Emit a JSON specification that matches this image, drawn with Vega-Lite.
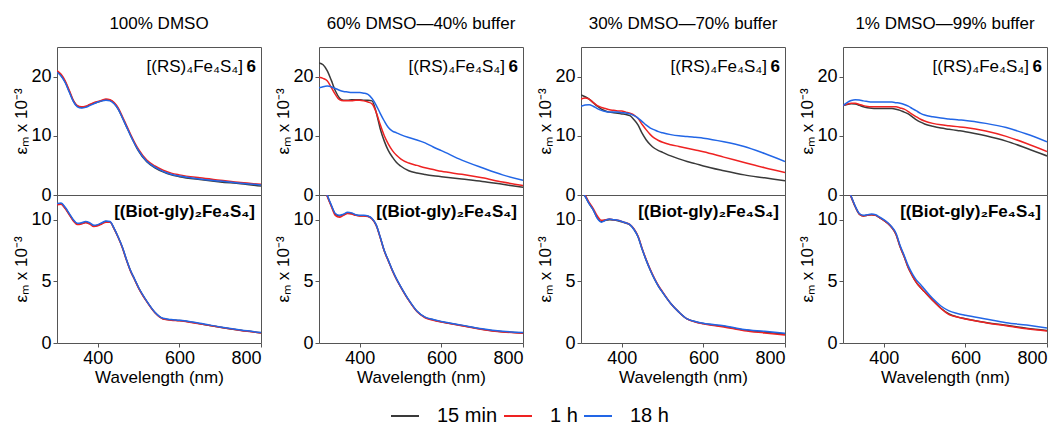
{
"$schema": "https://vega.github.io/schema/vega-lite/v6.json",
"background": "white",
"padding": {"left": 12, "top": 14, "right": 0, "bottom": 0},
"config": {
 "font": "Liberation Sans",
 "view": {"stroke": "#555555", "strokeWidth": 1},
 "axis": {"domain": false, "grid": false, "tickColor": "#555555", "tickSize": 4, "labelPadding": 2, "labelFontSize": 18, "labelColor": "#000000", "titleFontSize": 17, "titleFontWeight": "normal", "titleColor": "#000000"},
 "axisY": {"titlePadding": 0, "titleFontSize": 17},
 "axisX": {"titlePadding": 2},
 "title": {"fontSize": 17, "fontWeight": "normal", "offset": 14, "color": "#000000"},
 "legend": {"title": null}
},
"datasets": {
"p100RS": [
{"time":"15 min","wl":300,"eps":20.8},{"time":"15 min","wl":310,"eps":20.2},{"time":"15 min","wl":320,"eps":19.1},{"time":"15 min","wl":330,"eps":17.5},{"time":"15 min","wl":340,"eps":15.9},{"time":"15 min","wl":350,"eps":15.0},{"time":"15 min","wl":360,"eps":14.8},{"time":"15 min","wl":370,"eps":14.9},{"time":"15 min","wl":380,"eps":15.2},{"time":"15 min","wl":390,"eps":15.5},{"time":"15 min","wl":400,"eps":15.7},{"time":"15 min","wl":410,"eps":15.9},{"time":"15 min","wl":420,"eps":16.1},{"time":"15 min","wl":430,"eps":16.0},{"time":"15 min","wl":440,"eps":15.5},{"time":"15 min","wl":450,"eps":14.5},{"time":"15 min","wl":460,"eps":13.1},{"time":"15 min","wl":470,"eps":11.6},{"time":"15 min","wl":480,"eps":10.1},{"time":"15 min","wl":490,"eps":8.7},{"time":"15 min","wl":500,"eps":7.4},{"time":"15 min","wl":520,"eps":5.6},{"time":"15 min","wl":540,"eps":4.6},{"time":"15 min","wl":560,"eps":3.9},{"time":"15 min","wl":580,"eps":3.4},{"time":"15 min","wl":600,"eps":3.1},{"time":"15 min","wl":650,"eps":2.6},{"time":"15 min","wl":700,"eps":2.2},{"time":"15 min","wl":750,"eps":1.9},{"time":"15 min","wl":800,"eps":1.5},
{"time":"1 h","wl":300,"eps":21.0},{"time":"1 h","wl":310,"eps":20.4},{"time":"1 h","wl":320,"eps":19.3},{"time":"1 h","wl":330,"eps":17.7},{"time":"1 h","wl":340,"eps":16.0},{"time":"1 h","wl":350,"eps":15.1},{"time":"1 h","wl":360,"eps":14.9},{"time":"1 h","wl":370,"eps":15.0},{"time":"1 h","wl":380,"eps":15.3},{"time":"1 h","wl":390,"eps":15.6},{"time":"1 h","wl":400,"eps":15.8},{"time":"1 h","wl":410,"eps":16.0},{"time":"1 h","wl":420,"eps":16.2},{"time":"1 h","wl":430,"eps":16.1},{"time":"1 h","wl":440,"eps":15.6},{"time":"1 h","wl":450,"eps":14.7},{"time":"1 h","wl":460,"eps":13.3},{"time":"1 h","wl":470,"eps":11.8},{"time":"1 h","wl":480,"eps":10.3},{"time":"1 h","wl":490,"eps":8.9},{"time":"1 h","wl":500,"eps":7.7},{"time":"1 h","wl":520,"eps":5.9},{"time":"1 h","wl":540,"eps":4.9},{"time":"1 h","wl":560,"eps":4.2},{"time":"1 h","wl":580,"eps":3.7},{"time":"1 h","wl":600,"eps":3.4},{"time":"1 h","wl":650,"eps":2.9},{"time":"1 h","wl":700,"eps":2.5},{"time":"1 h","wl":750,"eps":2.1},{"time":"1 h","wl":800,"eps":1.8},
{"time":"18 h","wl":300,"eps":20.7},{"time":"18 h","wl":310,"eps":20.1},{"time":"18 h","wl":320,"eps":19.0},{"time":"18 h","wl":330,"eps":17.4},{"time":"18 h","wl":340,"eps":15.8},{"time":"18 h","wl":350,"eps":14.9},{"time":"18 h","wl":360,"eps":14.7},{"time":"18 h","wl":370,"eps":14.8},{"time":"18 h","wl":380,"eps":15.1},{"time":"18 h","wl":390,"eps":15.4},{"time":"18 h","wl":400,"eps":15.7},{"time":"18 h","wl":410,"eps":15.9},{"time":"18 h","wl":420,"eps":16.0},{"time":"18 h","wl":430,"eps":15.9},{"time":"18 h","wl":440,"eps":15.4},{"time":"18 h","wl":450,"eps":14.5},{"time":"18 h","wl":460,"eps":13.1},{"time":"18 h","wl":470,"eps":11.6},{"time":"18 h","wl":480,"eps":10.1},{"time":"18 h","wl":490,"eps":8.7},{"time":"18 h","wl":500,"eps":7.5},{"time":"18 h","wl":520,"eps":5.7},{"time":"18 h","wl":540,"eps":4.7},{"time":"18 h","wl":560,"eps":4.0},{"time":"18 h","wl":580,"eps":3.5},{"time":"18 h","wl":600,"eps":3.2},{"time":"18 h","wl":650,"eps":2.7},{"time":"18 h","wl":700,"eps":2.35},{"time":"18 h","wl":750,"eps":2.0},{"time":"18 h","wl":800,"eps":1.7}
],
"p100B": [
{"time":"15 min","wl":300,"eps":11.25},{"time":"15 min","wl":310,"eps":11.3},{"time":"15 min","wl":320,"eps":10.95},{"time":"15 min","wl":330,"eps":10.45},{"time":"15 min","wl":340,"eps":9.95},{"time":"15 min","wl":350,"eps":9.65},{"time":"15 min","wl":360,"eps":9.7},{"time":"15 min","wl":370,"eps":9.8},{"time":"15 min","wl":380,"eps":9.7},{"time":"15 min","wl":390,"eps":9.5},{"time":"15 min","wl":400,"eps":9.55},{"time":"15 min","wl":410,"eps":9.7},{"time":"15 min","wl":420,"eps":9.85},{"time":"15 min","wl":430,"eps":9.82},{"time":"15 min","wl":440,"eps":9.27},{"time":"15 min","wl":450,"eps":8.57},{"time":"15 min","wl":460,"eps":7.77},{"time":"15 min","wl":470,"eps":6.77},{"time":"15 min","wl":480,"eps":5.87},{"time":"15 min","wl":490,"eps":5.17},{"time":"15 min","wl":500,"eps":4.47},{"time":"15 min","wl":520,"eps":3.37},{"time":"15 min","wl":540,"eps":2.47},{"time":"15 min","wl":560,"eps":1.97},{"time":"15 min","wl":580,"eps":1.87},{"time":"15 min","wl":600,"eps":1.82},{"time":"15 min","wl":650,"eps":1.57},{"time":"15 min","wl":700,"eps":1.28},{"time":"15 min","wl":750,"eps":1.03},{"time":"15 min","wl":800,"eps":0.83},
{"time":"1 h","wl":300,"eps":11.2},{"time":"1 h","wl":310,"eps":11.25},{"time":"1 h","wl":320,"eps":10.9},{"time":"1 h","wl":330,"eps":10.4},{"time":"1 h","wl":340,"eps":9.9},{"time":"1 h","wl":350,"eps":9.6},{"time":"1 h","wl":360,"eps":9.65},{"time":"1 h","wl":370,"eps":9.75},{"time":"1 h","wl":380,"eps":9.65},{"time":"1 h","wl":390,"eps":9.45},{"time":"1 h","wl":400,"eps":9.5},{"time":"1 h","wl":410,"eps":9.65},{"time":"1 h","wl":420,"eps":9.8},{"time":"1 h","wl":430,"eps":9.8},{"time":"1 h","wl":440,"eps":9.25},{"time":"1 h","wl":450,"eps":8.55},{"time":"1 h","wl":460,"eps":7.75},{"time":"1 h","wl":470,"eps":6.75},{"time":"1 h","wl":480,"eps":5.85},{"time":"1 h","wl":490,"eps":5.15},{"time":"1 h","wl":500,"eps":4.45},{"time":"1 h","wl":520,"eps":3.35},{"time":"1 h","wl":540,"eps":2.45},{"time":"1 h","wl":560,"eps":1.95},{"time":"1 h","wl":580,"eps":1.85},{"time":"1 h","wl":600,"eps":1.8},{"time":"1 h","wl":650,"eps":1.55},{"time":"1 h","wl":700,"eps":1.27},{"time":"1 h","wl":750,"eps":1.02},{"time":"1 h","wl":800,"eps":0.82},
{"time":"18 h","wl":300,"eps":11.3},{"time":"18 h","wl":310,"eps":11.35},{"time":"18 h","wl":320,"eps":11.0},{"time":"18 h","wl":330,"eps":10.5},{"time":"18 h","wl":340,"eps":10.0},{"time":"18 h","wl":350,"eps":9.7},{"time":"18 h","wl":360,"eps":9.75},{"time":"18 h","wl":370,"eps":9.85},{"time":"18 h","wl":380,"eps":9.75},{"time":"18 h","wl":390,"eps":9.55},{"time":"18 h","wl":400,"eps":9.6},{"time":"18 h","wl":410,"eps":9.75},{"time":"18 h","wl":420,"eps":9.9},{"time":"18 h","wl":430,"eps":9.85},{"time":"18 h","wl":440,"eps":9.3},{"time":"18 h","wl":450,"eps":8.6},{"time":"18 h","wl":460,"eps":7.8},{"time":"18 h","wl":470,"eps":6.8},{"time":"18 h","wl":480,"eps":5.9},{"time":"18 h","wl":490,"eps":5.2},{"time":"18 h","wl":500,"eps":4.5},{"time":"18 h","wl":520,"eps":3.4},{"time":"18 h","wl":540,"eps":2.5},{"time":"18 h","wl":560,"eps":2.0},{"time":"18 h","wl":580,"eps":1.9},{"time":"18 h","wl":600,"eps":1.85},{"time":"18 h","wl":650,"eps":1.6},{"time":"18 h","wl":700,"eps":1.3},{"time":"18 h","wl":750,"eps":1.05},{"time":"18 h","wl":800,"eps":0.85}
],
"p60RS": [
{"time":"15 min","wl":300,"eps":22.3},{"time":"15 min","wl":310,"eps":22.0},{"time":"15 min","wl":320,"eps":21.0},{"time":"15 min","wl":330,"eps":19.4},{"time":"15 min","wl":340,"eps":17.6},{"time":"15 min","wl":350,"eps":16.4},{"time":"15 min","wl":360,"eps":16.0},{"time":"15 min","wl":370,"eps":16.0},{"time":"15 min","wl":380,"eps":16.1},{"time":"15 min","wl":390,"eps":16.1},{"time":"15 min","wl":400,"eps":16.1},{"time":"15 min","wl":410,"eps":16.0},{"time":"15 min","wl":420,"eps":16.0},{"time":"15 min","wl":430,"eps":15.9},{"time":"15 min","wl":440,"eps":14.0},{"time":"15 min","wl":450,"eps":11.2},{"time":"15 min","wl":460,"eps":9.1},{"time":"15 min","wl":470,"eps":7.5},{"time":"15 min","wl":480,"eps":6.4},{"time":"15 min","wl":490,"eps":5.5},{"time":"15 min","wl":500,"eps":4.9},{"time":"15 min","wl":520,"eps":4.1},{"time":"15 min","wl":540,"eps":3.7},{"time":"15 min","wl":560,"eps":3.45},{"time":"15 min","wl":580,"eps":3.25},{"time":"15 min","wl":600,"eps":3.1},{"time":"15 min","wl":650,"eps":2.7},{"time":"15 min","wl":700,"eps":2.3},{"time":"15 min","wl":750,"eps":1.8},{"time":"15 min","wl":800,"eps":1.3},
{"time":"1 h","wl":300,"eps":19.9},{"time":"1 h","wl":310,"eps":19.7},{"time":"1 h","wl":320,"eps":19.3},{"time":"1 h","wl":330,"eps":18.2},{"time":"1 h","wl":340,"eps":17.0},{"time":"1 h","wl":350,"eps":16.1},{"time":"1 h","wl":360,"eps":15.9},{"time":"1 h","wl":370,"eps":15.9},{"time":"1 h","wl":380,"eps":15.9},{"time":"1 h","wl":390,"eps":16.0},{"time":"1 h","wl":400,"eps":16.0},{"time":"1 h","wl":410,"eps":15.9},{"time":"1 h","wl":420,"eps":15.7},{"time":"1 h","wl":430,"eps":15.4},{"time":"1 h","wl":440,"eps":14.0},{"time":"1 h","wl":450,"eps":11.9},{"time":"1 h","wl":460,"eps":10.0},{"time":"1 h","wl":470,"eps":8.6},{"time":"1 h","wl":480,"eps":7.5},{"time":"1 h","wl":490,"eps":6.7},{"time":"1 h","wl":500,"eps":6.1},{"time":"1 h","wl":520,"eps":5.4},{"time":"1 h","wl":540,"eps":5.0},{"time":"1 h","wl":560,"eps":4.6},{"time":"1 h","wl":580,"eps":4.3},{"time":"1 h","wl":600,"eps":4.0},{"time":"1 h","wl":650,"eps":3.5},{"time":"1 h","wl":700,"eps":2.9},{"time":"1 h","wl":750,"eps":2.2},{"time":"1 h","wl":800,"eps":1.6},
{"time":"18 h","wl":300,"eps":18.1},{"time":"18 h","wl":310,"eps":18.3},{"time":"18 h","wl":320,"eps":18.4},{"time":"18 h","wl":330,"eps":18.3},{"time":"18 h","wl":340,"eps":18.0},{"time":"18 h","wl":350,"eps":17.7},{"time":"18 h","wl":360,"eps":17.5},{"time":"18 h","wl":370,"eps":17.4},{"time":"18 h","wl":380,"eps":17.3},{"time":"18 h","wl":390,"eps":17.3},{"time":"18 h","wl":400,"eps":17.3},{"time":"18 h","wl":410,"eps":17.2},{"time":"18 h","wl":420,"eps":17.0},{"time":"18 h","wl":430,"eps":16.3},{"time":"18 h","wl":440,"eps":15.2},{"time":"18 h","wl":450,"eps":13.8},{"time":"18 h","wl":460,"eps":12.5},{"time":"18 h","wl":470,"eps":11.4},{"time":"18 h","wl":480,"eps":10.8},{"time":"18 h","wl":490,"eps":10.5},{"time":"18 h","wl":500,"eps":10.2},{"time":"18 h","wl":520,"eps":9.7},{"time":"18 h","wl":540,"eps":9.3},{"time":"18 h","wl":560,"eps":8.8},{"time":"18 h","wl":580,"eps":8.1},{"time":"18 h","wl":600,"eps":7.5},{"time":"18 h","wl":650,"eps":5.9},{"time":"18 h","wl":700,"eps":4.6},{"time":"18 h","wl":750,"eps":3.4},{"time":"18 h","wl":800,"eps":2.5}
],
"p60B": [
{"time":"15 min","wl":300,"eps":13.75},{"time":"15 min","wl":310,"eps":12.85},{"time":"15 min","wl":320,"eps":11.95},{"time":"15 min","wl":330,"eps":11.15},{"time":"15 min","wl":340,"eps":10.45},{"time":"15 min","wl":350,"eps":10.3},{"time":"15 min","wl":360,"eps":10.4},{"time":"15 min","wl":370,"eps":10.55},{"time":"15 min","wl":380,"eps":10.5},{"time":"15 min","wl":390,"eps":10.38},{"time":"15 min","wl":400,"eps":10.32},{"time":"15 min","wl":410,"eps":10.32},{"time":"15 min","wl":420,"eps":10.28},{"time":"15 min","wl":430,"eps":10.08},{"time":"15 min","wl":440,"eps":9.58},{"time":"15 min","wl":450,"eps":8.58},{"time":"15 min","wl":460,"eps":7.48},{"time":"15 min","wl":470,"eps":6.68},{"time":"15 min","wl":480,"eps":5.88},{"time":"15 min","wl":490,"eps":5.18},{"time":"15 min","wl":500,"eps":4.58},{"time":"15 min","wl":520,"eps":3.48},{"time":"15 min","wl":540,"eps":2.58},{"time":"15 min","wl":560,"eps":2.08},{"time":"15 min","wl":580,"eps":1.88},{"time":"15 min","wl":600,"eps":1.72},{"time":"15 min","wl":650,"eps":1.42},{"time":"15 min","wl":700,"eps":1.12},{"time":"15 min","wl":750,"eps":0.92},{"time":"15 min","wl":800,"eps":0.82},
{"time":"1 h","wl":300,"eps":13.7},{"time":"1 h","wl":310,"eps":12.8},{"time":"1 h","wl":320,"eps":11.9},{"time":"1 h","wl":330,"eps":11.1},{"time":"1 h","wl":340,"eps":10.35},{"time":"1 h","wl":350,"eps":10.2},{"time":"1 h","wl":360,"eps":10.35},{"time":"1 h","wl":370,"eps":10.5},{"time":"1 h","wl":380,"eps":10.45},{"time":"1 h","wl":390,"eps":10.35},{"time":"1 h","wl":400,"eps":10.3},{"time":"1 h","wl":410,"eps":10.3},{"time":"1 h","wl":420,"eps":10.25},{"time":"1 h","wl":430,"eps":10.05},{"time":"1 h","wl":440,"eps":9.55},{"time":"1 h","wl":450,"eps":8.55},{"time":"1 h","wl":460,"eps":7.45},{"time":"1 h","wl":470,"eps":6.65},{"time":"1 h","wl":480,"eps":5.85},{"time":"1 h","wl":490,"eps":5.15},{"time":"1 h","wl":500,"eps":4.55},{"time":"1 h","wl":520,"eps":3.45},{"time":"1 h","wl":540,"eps":2.55},{"time":"1 h","wl":560,"eps":2.05},{"time":"1 h","wl":580,"eps":1.85},{"time":"1 h","wl":600,"eps":1.7},{"time":"1 h","wl":650,"eps":1.4},{"time":"1 h","wl":700,"eps":1.1},{"time":"1 h","wl":750,"eps":0.9},{"time":"1 h","wl":800,"eps":0.8},
{"time":"18 h","wl":300,"eps":13.8},{"time":"18 h","wl":310,"eps":12.9},{"time":"18 h","wl":320,"eps":12.0},{"time":"18 h","wl":330,"eps":11.2},{"time":"18 h","wl":340,"eps":10.5},{"time":"18 h","wl":350,"eps":10.35},{"time":"18 h","wl":360,"eps":10.45},{"time":"18 h","wl":370,"eps":10.6},{"time":"18 h","wl":380,"eps":10.55},{"time":"18 h","wl":390,"eps":10.4},{"time":"18 h","wl":400,"eps":10.35},{"time":"18 h","wl":410,"eps":10.35},{"time":"18 h","wl":420,"eps":10.3},{"time":"18 h","wl":430,"eps":10.1},{"time":"18 h","wl":440,"eps":9.6},{"time":"18 h","wl":450,"eps":8.6},{"time":"18 h","wl":460,"eps":7.5},{"time":"18 h","wl":470,"eps":6.7},{"time":"18 h","wl":480,"eps":5.9},{"time":"18 h","wl":490,"eps":5.2},{"time":"18 h","wl":500,"eps":4.6},{"time":"18 h","wl":520,"eps":3.5},{"time":"18 h","wl":540,"eps":2.6},{"time":"18 h","wl":560,"eps":2.1},{"time":"18 h","wl":580,"eps":1.9},{"time":"18 h","wl":600,"eps":1.75},{"time":"18 h","wl":650,"eps":1.45},{"time":"18 h","wl":700,"eps":1.15},{"time":"18 h","wl":750,"eps":0.95},{"time":"18 h","wl":800,"eps":0.85}
],
"p30RS": [
{"time":"15 min","wl":300,"eps":16.9},{"time":"15 min","wl":310,"eps":16.6},{"time":"15 min","wl":320,"eps":16.2},{"time":"15 min","wl":330,"eps":15.6},{"time":"15 min","wl":340,"eps":15.0},{"time":"15 min","wl":350,"eps":14.5},{"time":"15 min","wl":360,"eps":14.2},{"time":"15 min","wl":370,"eps":14.0},{"time":"15 min","wl":380,"eps":13.9},{"time":"15 min","wl":390,"eps":13.8},{"time":"15 min","wl":400,"eps":13.7},{"time":"15 min","wl":410,"eps":13.6},{"time":"15 min","wl":420,"eps":13.4},{"time":"15 min","wl":430,"eps":12.7},{"time":"15 min","wl":440,"eps":11.8},{"time":"15 min","wl":450,"eps":10.4},{"time":"15 min","wl":460,"eps":9.3},{"time":"15 min","wl":470,"eps":8.5},{"time":"15 min","wl":480,"eps":7.9},{"time":"15 min","wl":490,"eps":7.5},{"time":"15 min","wl":500,"eps":7.2},{"time":"15 min","wl":520,"eps":6.6},{"time":"15 min","wl":540,"eps":6.1},{"time":"15 min","wl":560,"eps":5.65},{"time":"15 min","wl":580,"eps":5.3},{"time":"15 min","wl":600,"eps":4.9},{"time":"15 min","wl":650,"eps":4.1},{"time":"15 min","wl":700,"eps":3.4},{"time":"15 min","wl":750,"eps":2.9},{"time":"15 min","wl":800,"eps":2.4},
{"time":"1 h","wl":300,"eps":16.2},{"time":"1 h","wl":310,"eps":16.4},{"time":"1 h","wl":320,"eps":16.2},{"time":"1 h","wl":330,"eps":15.6},{"time":"1 h","wl":340,"eps":15.1},{"time":"1 h","wl":350,"eps":14.8},{"time":"1 h","wl":360,"eps":14.6},{"time":"1 h","wl":370,"eps":14.4},{"time":"1 h","wl":380,"eps":14.3},{"time":"1 h","wl":390,"eps":14.2},{"time":"1 h","wl":400,"eps":14.2},{"time":"1 h","wl":410,"eps":14.0},{"time":"1 h","wl":420,"eps":13.8},{"time":"1 h","wl":430,"eps":13.5},{"time":"1 h","wl":440,"eps":12.9},{"time":"1 h","wl":450,"eps":11.9},{"time":"1 h","wl":460,"eps":11.0},{"time":"1 h","wl":470,"eps":10.2},{"time":"1 h","wl":480,"eps":9.6},{"time":"1 h","wl":490,"eps":9.2},{"time":"1 h","wl":500,"eps":8.9},{"time":"1 h","wl":520,"eps":8.5},{"time":"1 h","wl":540,"eps":8.2},{"time":"1 h","wl":560,"eps":7.9},{"time":"1 h","wl":580,"eps":7.6},{"time":"1 h","wl":600,"eps":7.3},{"time":"1 h","wl":650,"eps":6.4},{"time":"1 h","wl":700,"eps":5.5},{"time":"1 h","wl":750,"eps":4.6},{"time":"1 h","wl":800,"eps":3.8},
{"time":"18 h","wl":300,"eps":15.0},{"time":"18 h","wl":310,"eps":15.2},{"time":"18 h","wl":320,"eps":15.25},{"time":"18 h","wl":330,"eps":15.0},{"time":"18 h","wl":340,"eps":14.6},{"time":"18 h","wl":350,"eps":14.3},{"time":"18 h","wl":360,"eps":14.1},{"time":"18 h","wl":370,"eps":14.0},{"time":"18 h","wl":380,"eps":14.0},{"time":"18 h","wl":390,"eps":14.0},{"time":"18 h","wl":400,"eps":13.9},{"time":"18 h","wl":410,"eps":13.85},{"time":"18 h","wl":420,"eps":13.7},{"time":"18 h","wl":430,"eps":13.4},{"time":"18 h","wl":440,"eps":13.0},{"time":"18 h","wl":450,"eps":12.4},{"time":"18 h","wl":460,"eps":11.8},{"time":"18 h","wl":470,"eps":11.3},{"time":"18 h","wl":480,"eps":11.0},{"time":"18 h","wl":490,"eps":10.7},{"time":"18 h","wl":500,"eps":10.5},{"time":"18 h","wl":520,"eps":10.2},{"time":"18 h","wl":540,"eps":10.0},{"time":"18 h","wl":560,"eps":9.9},{"time":"18 h","wl":580,"eps":9.75},{"time":"18 h","wl":600,"eps":9.6},{"time":"18 h","wl":650,"eps":9.0},{"time":"18 h","wl":700,"eps":8.2},{"time":"18 h","wl":750,"eps":7.0},{"time":"18 h","wl":800,"eps":5.65}
],
"p30B": [
{"time":"15 min","wl":300,"eps":12.3},{"time":"15 min","wl":310,"eps":11.9},{"time":"15 min","wl":320,"eps":11.3},{"time":"15 min","wl":330,"eps":10.8},{"time":"15 min","wl":340,"eps":10.15},{"time":"15 min","wl":350,"eps":9.85},{"time":"15 min","wl":360,"eps":9.95},{"time":"15 min","wl":370,"eps":10.0},{"time":"15 min","wl":380,"eps":9.98},{"time":"15 min","wl":390,"eps":9.92},{"time":"15 min","wl":400,"eps":9.82},{"time":"15 min","wl":410,"eps":9.72},{"time":"15 min","wl":420,"eps":9.58},{"time":"15 min","wl":430,"eps":9.2},{"time":"15 min","wl":440,"eps":8.6},{"time":"15 min","wl":450,"eps":7.6},{"time":"15 min","wl":460,"eps":6.7},{"time":"15 min","wl":470,"eps":5.9},{"time":"15 min","wl":480,"eps":5.2},{"time":"15 min","wl":490,"eps":4.6},{"time":"15 min","wl":500,"eps":4.1},{"time":"15 min","wl":520,"eps":3.2},{"time":"15 min","wl":540,"eps":2.5},{"time":"15 min","wl":560,"eps":1.95},{"time":"15 min","wl":580,"eps":1.72},{"time":"15 min","wl":600,"eps":1.58},{"time":"15 min","wl":650,"eps":1.35},{"time":"15 min","wl":700,"eps":1.05},{"time":"15 min","wl":750,"eps":0.88},{"time":"15 min","wl":800,"eps":0.72},
{"time":"1 h","wl":300,"eps":12.4},{"time":"1 h","wl":310,"eps":12.0},{"time":"1 h","wl":320,"eps":11.4},{"time":"1 h","wl":330,"eps":10.9},{"time":"1 h","wl":340,"eps":10.3},{"time":"1 h","wl":350,"eps":9.95},{"time":"1 h","wl":360,"eps":10.0},{"time":"1 h","wl":370,"eps":10.05},{"time":"1 h","wl":380,"eps":10.0},{"time":"1 h","wl":390,"eps":9.95},{"time":"1 h","wl":400,"eps":9.85},{"time":"1 h","wl":410,"eps":9.75},{"time":"1 h","wl":420,"eps":9.6},{"time":"1 h","wl":430,"eps":9.25},{"time":"1 h","wl":440,"eps":8.65},{"time":"1 h","wl":450,"eps":7.65},{"time":"1 h","wl":460,"eps":6.75},{"time":"1 h","wl":470,"eps":5.95},{"time":"1 h","wl":480,"eps":5.25},{"time":"1 h","wl":490,"eps":4.65},{"time":"1 h","wl":500,"eps":4.15},{"time":"1 h","wl":520,"eps":3.2},{"time":"1 h","wl":540,"eps":2.5},{"time":"1 h","wl":560,"eps":1.95},{"time":"1 h","wl":580,"eps":1.7},{"time":"1 h","wl":600,"eps":1.55},{"time":"1 h","wl":650,"eps":1.3},{"time":"1 h","wl":700,"eps":1.0},{"time":"1 h","wl":750,"eps":0.82},{"time":"1 h","wl":800,"eps":0.65},
{"time":"18 h","wl":300,"eps":12.3},{"time":"18 h","wl":310,"eps":11.9},{"time":"18 h","wl":320,"eps":11.3},{"time":"18 h","wl":330,"eps":10.8},{"time":"18 h","wl":340,"eps":10.1},{"time":"18 h","wl":350,"eps":9.8},{"time":"18 h","wl":360,"eps":9.95},{"time":"18 h","wl":370,"eps":10.05},{"time":"18 h","wl":380,"eps":10.0},{"time":"18 h","wl":390,"eps":9.95},{"time":"18 h","wl":400,"eps":9.85},{"time":"18 h","wl":410,"eps":9.75},{"time":"18 h","wl":420,"eps":9.6},{"time":"18 h","wl":430,"eps":9.2},{"time":"18 h","wl":440,"eps":8.6},{"time":"18 h","wl":450,"eps":7.6},{"time":"18 h","wl":460,"eps":6.7},{"time":"18 h","wl":470,"eps":5.9},{"time":"18 h","wl":480,"eps":5.2},{"time":"18 h","wl":490,"eps":4.6},{"time":"18 h","wl":500,"eps":4.1},{"time":"18 h","wl":520,"eps":3.2},{"time":"18 h","wl":540,"eps":2.5},{"time":"18 h","wl":560,"eps":1.95},{"time":"18 h","wl":580,"eps":1.75},{"time":"18 h","wl":600,"eps":1.6},{"time":"18 h","wl":650,"eps":1.4},{"time":"18 h","wl":700,"eps":1.1},{"time":"18 h","wl":750,"eps":0.95},{"time":"18 h","wl":800,"eps":0.78}
],
"p1RS": [
{"time":"15 min","wl":300,"eps":15.1},{"time":"15 min","wl":310,"eps":15.3},{"time":"15 min","wl":320,"eps":15.4},{"time":"15 min","wl":330,"eps":15.35},{"time":"15 min","wl":340,"eps":15.15},{"time":"15 min","wl":350,"eps":14.9},{"time":"15 min","wl":360,"eps":14.75},{"time":"15 min","wl":370,"eps":14.65},{"time":"15 min","wl":380,"eps":14.6},{"time":"15 min","wl":390,"eps":14.6},{"time":"15 min","wl":400,"eps":14.6},{"time":"15 min","wl":410,"eps":14.6},{"time":"15 min","wl":420,"eps":14.6},{"time":"15 min","wl":430,"eps":14.5},{"time":"15 min","wl":440,"eps":14.3},{"time":"15 min","wl":450,"eps":14.0},{"time":"15 min","wl":460,"eps":13.7},{"time":"15 min","wl":470,"eps":13.2},{"time":"15 min","wl":480,"eps":12.7},{"time":"15 min","wl":490,"eps":12.3},{"time":"15 min","wl":500,"eps":12.0},{"time":"15 min","wl":520,"eps":11.6},{"time":"15 min","wl":540,"eps":11.3},{"time":"15 min","wl":560,"eps":11.1},{"time":"15 min","wl":580,"eps":10.9},{"time":"15 min","wl":600,"eps":10.7},{"time":"15 min","wl":650,"eps":10.0},{"time":"15 min","wl":700,"eps":9.1},{"time":"15 min","wl":750,"eps":7.9},{"time":"15 min","wl":800,"eps":6.6},
{"time":"1 h","wl":300,"eps":15.1},{"time":"1 h","wl":310,"eps":15.35},{"time":"1 h","wl":320,"eps":15.5},{"time":"1 h","wl":330,"eps":15.5},{"time":"1 h","wl":340,"eps":15.3},{"time":"1 h","wl":350,"eps":15.1},{"time":"1 h","wl":360,"eps":14.95},{"time":"1 h","wl":370,"eps":14.9},{"time":"1 h","wl":380,"eps":14.9},{"time":"1 h","wl":390,"eps":14.9},{"time":"1 h","wl":400,"eps":14.9},{"time":"1 h","wl":410,"eps":14.9},{"time":"1 h","wl":420,"eps":14.9},{"time":"1 h","wl":430,"eps":14.9},{"time":"1 h","wl":440,"eps":14.7},{"time":"1 h","wl":450,"eps":14.5},{"time":"1 h","wl":460,"eps":14.1},{"time":"1 h","wl":470,"eps":13.6},{"time":"1 h","wl":480,"eps":13.2},{"time":"1 h","wl":490,"eps":12.8},{"time":"1 h","wl":500,"eps":12.5},{"time":"1 h","wl":520,"eps":12.1},{"time":"1 h","wl":540,"eps":11.85},{"time":"1 h","wl":560,"eps":11.7},{"time":"1 h","wl":580,"eps":11.55},{"time":"1 h","wl":600,"eps":11.4},{"time":"1 h","wl":650,"eps":10.8},{"time":"1 h","wl":700,"eps":9.9},{"time":"1 h","wl":750,"eps":8.7},{"time":"1 h","wl":800,"eps":7.35},
{"time":"18 h","wl":300,"eps":15.1},{"time":"18 h","wl":310,"eps":15.6},{"time":"18 h","wl":320,"eps":15.95},{"time":"18 h","wl":330,"eps":16.1},{"time":"18 h","wl":340,"eps":16.05},{"time":"18 h","wl":350,"eps":15.9},{"time":"18 h","wl":360,"eps":15.8},{"time":"18 h","wl":370,"eps":15.7},{"time":"18 h","wl":380,"eps":15.7},{"time":"18 h","wl":390,"eps":15.7},{"time":"18 h","wl":400,"eps":15.7},{"time":"18 h","wl":410,"eps":15.7},{"time":"18 h","wl":420,"eps":15.7},{"time":"18 h","wl":430,"eps":15.6},{"time":"18 h","wl":440,"eps":15.5},{"time":"18 h","wl":450,"eps":15.3},{"time":"18 h","wl":460,"eps":15.0},{"time":"18 h","wl":470,"eps":14.6},{"time":"18 h","wl":480,"eps":14.2},{"time":"18 h","wl":490,"eps":13.8},{"time":"18 h","wl":500,"eps":13.5},{"time":"18 h","wl":520,"eps":13.2},{"time":"18 h","wl":540,"eps":13.0},{"time":"18 h","wl":560,"eps":12.85},{"time":"18 h","wl":580,"eps":12.7},{"time":"18 h","wl":600,"eps":12.6},{"time":"18 h","wl":650,"eps":12.1},{"time":"18 h","wl":700,"eps":11.4},{"time":"18 h","wl":750,"eps":10.3},{"time":"18 h","wl":800,"eps":9.0}
],
"p1B": [
{"time":"15 min","wl":300,"eps":13.6},{"time":"15 min","wl":310,"eps":12.6},{"time":"15 min","wl":320,"eps":11.85},{"time":"15 min","wl":330,"eps":11.05},{"time":"15 min","wl":340,"eps":10.45},{"time":"15 min","wl":350,"eps":10.3},{"time":"15 min","wl":360,"eps":10.35},{"time":"15 min","wl":370,"eps":10.4},{"time":"15 min","wl":380,"eps":10.35},{"time":"15 min","wl":390,"eps":10.15},{"time":"15 min","wl":400,"eps":9.95},{"time":"15 min","wl":410,"eps":9.7},{"time":"15 min","wl":420,"eps":9.35},{"time":"15 min","wl":430,"eps":8.8},{"time":"15 min","wl":440,"eps":7.8},{"time":"15 min","wl":450,"eps":7.0},{"time":"15 min","wl":460,"eps":6.1},{"time":"15 min","wl":470,"eps":5.45},{"time":"15 min","wl":480,"eps":4.9},{"time":"15 min","wl":490,"eps":4.5},{"time":"15 min","wl":500,"eps":4.15},{"time":"15 min","wl":520,"eps":3.45},{"time":"15 min","wl":540,"eps":2.82},{"time":"15 min","wl":560,"eps":2.35},{"time":"15 min","wl":580,"eps":2.12},{"time":"15 min","wl":600,"eps":1.97},{"time":"15 min","wl":650,"eps":1.67},{"time":"15 min","wl":700,"eps":1.43},{"time":"15 min","wl":750,"eps":1.2},{"time":"15 min","wl":800,"eps":1.02},
{"time":"1 h","wl":300,"eps":13.6},{"time":"1 h","wl":310,"eps":12.6},{"time":"1 h","wl":320,"eps":11.85},{"time":"1 h","wl":330,"eps":11.05},{"time":"1 h","wl":340,"eps":10.45},{"time":"1 h","wl":350,"eps":10.3},{"time":"1 h","wl":360,"eps":10.35},{"time":"1 h","wl":370,"eps":10.4},{"time":"1 h","wl":380,"eps":10.35},{"time":"1 h","wl":390,"eps":10.15},{"time":"1 h","wl":400,"eps":9.95},{"time":"1 h","wl":410,"eps":9.7},{"time":"1 h","wl":420,"eps":9.35},{"time":"1 h","wl":430,"eps":8.8},{"time":"1 h","wl":440,"eps":7.8},{"time":"1 h","wl":450,"eps":7.0},{"time":"1 h","wl":460,"eps":6.1},{"time":"1 h","wl":470,"eps":5.45},{"time":"1 h","wl":480,"eps":4.9},{"time":"1 h","wl":490,"eps":4.5},{"time":"1 h","wl":500,"eps":4.15},{"time":"1 h","wl":520,"eps":3.45},{"time":"1 h","wl":540,"eps":2.8},{"time":"1 h","wl":560,"eps":2.3},{"time":"1 h","wl":580,"eps":2.1},{"time":"1 h","wl":600,"eps":1.95},{"time":"1 h","wl":650,"eps":1.65},{"time":"1 h","wl":700,"eps":1.4},{"time":"1 h","wl":750,"eps":1.15},{"time":"1 h","wl":800,"eps":0.97},
{"time":"18 h","wl":300,"eps":13.6},{"time":"18 h","wl":310,"eps":12.6},{"time":"18 h","wl":320,"eps":11.9},{"time":"18 h","wl":330,"eps":11.1},{"time":"18 h","wl":340,"eps":10.5},{"time":"18 h","wl":350,"eps":10.35},{"time":"18 h","wl":360,"eps":10.4},{"time":"18 h","wl":370,"eps":10.45},{"time":"18 h","wl":380,"eps":10.4},{"time":"18 h","wl":390,"eps":10.2},{"time":"18 h","wl":400,"eps":10.0},{"time":"18 h","wl":410,"eps":9.75},{"time":"18 h","wl":420,"eps":9.4},{"time":"18 h","wl":430,"eps":8.9},{"time":"18 h","wl":440,"eps":7.9},{"time":"18 h","wl":450,"eps":7.1},{"time":"18 h","wl":460,"eps":6.25},{"time":"18 h","wl":470,"eps":5.6},{"time":"18 h","wl":480,"eps":5.1},{"time":"18 h","wl":490,"eps":4.75},{"time":"18 h","wl":500,"eps":4.35},{"time":"18 h","wl":520,"eps":3.6},{"time":"18 h","wl":540,"eps":3.0},{"time":"18 h","wl":560,"eps":2.6},{"time":"18 h","wl":580,"eps":2.4},{"time":"18 h","wl":600,"eps":2.25},{"time":"18 h","wl":650,"eps":1.95},{"time":"18 h","wl":700,"eps":1.65},{"time":"18 h","wl":750,"eps":1.45},{"time":"18 h","wl":800,"eps":1.22}
],
"labelRS": [{"label": "[(RS)₄Fe₄S₄]", "num": "6"}],
"labelB": [{"label": "[(Biot-gly)₂Fe₄S₄]"}]
},
"columns": 4,
"spacing": {"row": 0, "column": 58},
"bounds": "flush",
"resolve": {"scale": {"color": "shared"}, "legend": {"color": "shared"}},
"concat": [
{"width": 204, "height": 148, "title": "100% DMSO",
 "layer": [
  {"data": {"name": "p100RS"}, "mark": {"type": "line", "strokeWidth": 1.5, "interpolate": "monotone", "clip": true},
   "encoding": {
    "x": {"field": "wl", "type": "quantitative", "scale": {"domain": [300, 800], "nice": false}, "axis": null},
    "y": {"field": "eps", "type": "quantitative", "scale": {"domain": [0, 25], "nice": false}, "axis": {"values": [0, 10, 20], "title": "εₘ x 10⁻³"}},
    "color": {"field": "time", "type": "nominal", "sort": ["15 min", "1 h", "18 h"], "scale": {"domain": ["15 min", "1 h", "18 h"], "range": ["#3a3a3a", "#ee2222", "#2266e6"]},
     "legend": {"orient": "none", "legendX": 333, "legendY": 354, "direction": "horizontal", "symbolType": "stroke", "symbolSize": 784, "symbolStrokeWidth": 2, "labelFontSize": 20, "labelOffset": 17, "columnPadding": 2, "labelColor": "#000000"}}}},
  {"data": {"name": "labelRS"}, "mark": {"type": "text", "align": "right", "baseline": "alphabetic", "dx": -18, "fontSize": 17},
   "encoding": {"x": {"datum": 800, "type": "quantitative"}, "y": {"datum": 20.7, "type": "quantitative"}, "text": {"field": "label"}}},
  {"data": {"name": "labelRS"}, "mark": {"type": "text", "align": "right", "baseline": "alphabetic", "dx": -5, "fontSize": 17, "fontWeight": "bold"},
   "encoding": {"x": {"datum": 800, "type": "quantitative"}, "y": {"datum": 20.7, "type": "quantitative"}, "text": {"field": "num"}}}
 ]},
{"width": 204, "height": 148, "title": "60% DMSO—40% buffer",
 "layer": [
  {"data": {"name": "p60RS"}, "mark": {"type": "line", "strokeWidth": 1.5, "interpolate": "monotone", "clip": true},
   "encoding": {
    "x": {"field": "wl", "type": "quantitative", "scale": {"domain": [300, 800], "nice": false}, "axis": null},
    "y": {"field": "eps", "type": "quantitative", "scale": {"domain": [0, 25], "nice": false}, "axis": {"values": [0, 10, 20], "title": "εₘ x 10⁻³"}},
    "color": {"field": "time", "type": "nominal", "sort": ["15 min", "1 h", "18 h"]}}},
  {"data": {"name": "labelRS"}, "mark": {"type": "text", "align": "right", "baseline": "alphabetic", "dx": -18, "fontSize": 17},
   "encoding": {"x": {"datum": 800, "type": "quantitative"}, "y": {"datum": 20.7, "type": "quantitative"}, "text": {"field": "label"}}},
  {"data": {"name": "labelRS"}, "mark": {"type": "text", "align": "right", "baseline": "alphabetic", "dx": -5, "fontSize": 17, "fontWeight": "bold"},
   "encoding": {"x": {"datum": 800, "type": "quantitative"}, "y": {"datum": 20.7, "type": "quantitative"}, "text": {"field": "num"}}}
 ]},
{"width": 204, "height": 148, "title": "30% DMSO—70% buffer",
 "layer": [
  {"data": {"name": "p30RS"}, "mark": {"type": "line", "strokeWidth": 1.5, "interpolate": "monotone", "clip": true},
   "encoding": {
    "x": {"field": "wl", "type": "quantitative", "scale": {"domain": [300, 800], "nice": false}, "axis": null},
    "y": {"field": "eps", "type": "quantitative", "scale": {"domain": [0, 25], "nice": false}, "axis": {"values": [0, 10, 20], "title": "εₘ x 10⁻³"}},
    "color": {"field": "time", "type": "nominal", "sort": ["15 min", "1 h", "18 h"]}}},
  {"data": {"name": "labelRS"}, "mark": {"type": "text", "align": "right", "baseline": "alphabetic", "dx": -18, "fontSize": 17},
   "encoding": {"x": {"datum": 800, "type": "quantitative"}, "y": {"datum": 20.7, "type": "quantitative"}, "text": {"field": "label"}}},
  {"data": {"name": "labelRS"}, "mark": {"type": "text", "align": "right", "baseline": "alphabetic", "dx": -5, "fontSize": 17, "fontWeight": "bold"},
   "encoding": {"x": {"datum": 800, "type": "quantitative"}, "y": {"datum": 20.7, "type": "quantitative"}, "text": {"field": "num"}}}
 ]},
{"width": 204, "height": 148, "title": "1% DMSO—99% buffer",
 "layer": [
  {"data": {"name": "p1RS"}, "mark": {"type": "line", "strokeWidth": 1.5, "interpolate": "monotone", "clip": true},
   "encoding": {
    "x": {"field": "wl", "type": "quantitative", "scale": {"domain": [300, 800], "nice": false}, "axis": null},
    "y": {"field": "eps", "type": "quantitative", "scale": {"domain": [0, 25], "nice": false}, "axis": {"values": [0, 10, 20], "title": "εₘ x 10⁻³"}},
    "color": {"field": "time", "type": "nominal", "sort": ["15 min", "1 h", "18 h"]}}},
  {"data": {"name": "labelRS"}, "mark": {"type": "text", "align": "right", "baseline": "alphabetic", "dx": -18, "fontSize": 17},
   "encoding": {"x": {"datum": 800, "type": "quantitative"}, "y": {"datum": 20.7, "type": "quantitative"}, "text": {"field": "label"}}},
  {"data": {"name": "labelRS"}, "mark": {"type": "text", "align": "right", "baseline": "alphabetic", "dx": -5, "fontSize": 17, "fontWeight": "bold"},
   "encoding": {"x": {"datum": 800, "type": "quantitative"}, "y": {"datum": 20.7, "type": "quantitative"}, "text": {"field": "num"}}}
 ]},
{"width": 204, "height": 148,
 "layer": [
  {"data": {"name": "p100B"}, "mark": {"type": "line", "strokeWidth": 1.5, "interpolate": "monotone", "clip": true},
   "encoding": {
    "x": {"field": "wl", "type": "quantitative", "scale": {"domain": [300, 800], "nice": false}, "axis": {"values": [400, 600, 800], "title": "Wavelength (nm)"}},
    "y": {"field": "eps", "type": "quantitative", "scale": {"domain": [0, 12], "nice": false}, "axis": {"values": [0, 5, 10], "title": "εₘ x 10⁻³"}},
    "color": {"field": "time", "type": "nominal", "sort": ["15 min", "1 h", "18 h"]}}},
  {"data": {"name": "labelB"}, "mark": {"type": "text", "align": "right", "baseline": "alphabetic", "dx": -6, "fontSize": 17, "fontWeight": "bold"},
   "encoding": {"x": {"datum": 800, "type": "quantitative"}, "y": {"datum": 10.2, "type": "quantitative"}, "text": {"field": "label"}}}
 ]},
{"width": 204, "height": 148,
 "layer": [
  {"data": {"name": "p60B"}, "mark": {"type": "line", "strokeWidth": 1.5, "interpolate": "monotone", "clip": true},
   "encoding": {
    "x": {"field": "wl", "type": "quantitative", "scale": {"domain": [300, 800], "nice": false}, "axis": {"values": [400, 600, 800], "title": "Wavelength (nm)"}},
    "y": {"field": "eps", "type": "quantitative", "scale": {"domain": [0, 12], "nice": false}, "axis": {"values": [0, 5, 10], "title": "εₘ x 10⁻³"}},
    "color": {"field": "time", "type": "nominal", "sort": ["15 min", "1 h", "18 h"]}}},
  {"data": {"name": "labelB"}, "mark": {"type": "text", "align": "right", "baseline": "alphabetic", "dx": -6, "fontSize": 17, "fontWeight": "bold"},
   "encoding": {"x": {"datum": 800, "type": "quantitative"}, "y": {"datum": 10.2, "type": "quantitative"}, "text": {"field": "label"}}}
 ]},
{"width": 204, "height": 148,
 "layer": [
  {"data": {"name": "p30B"}, "mark": {"type": "line", "strokeWidth": 1.5, "interpolate": "monotone", "clip": true},
   "encoding": {
    "x": {"field": "wl", "type": "quantitative", "scale": {"domain": [300, 800], "nice": false}, "axis": {"values": [400, 600, 800], "title": "Wavelength (nm)"}},
    "y": {"field": "eps", "type": "quantitative", "scale": {"domain": [0, 12], "nice": false}, "axis": {"values": [0, 5, 10], "title": "εₘ x 10⁻³"}},
    "color": {"field": "time", "type": "nominal", "sort": ["15 min", "1 h", "18 h"]}}},
  {"data": {"name": "labelB"}, "mark": {"type": "text", "align": "right", "baseline": "alphabetic", "dx": -6, "fontSize": 17, "fontWeight": "bold"},
   "encoding": {"x": {"datum": 800, "type": "quantitative"}, "y": {"datum": 10.2, "type": "quantitative"}, "text": {"field": "label"}}}
 ]},
{"width": 204, "height": 148,
 "layer": [
  {"data": {"name": "p1B"}, "mark": {"type": "line", "strokeWidth": 1.5, "interpolate": "monotone", "clip": true},
   "encoding": {
    "x": {"field": "wl", "type": "quantitative", "scale": {"domain": [300, 800], "nice": false}, "axis": {"values": [400, 600, 800], "title": "Wavelength (nm)"}},
    "y": {"field": "eps", "type": "quantitative", "scale": {"domain": [0, 12], "nice": false}, "axis": {"values": [0, 5, 10], "title": "εₘ x 10⁻³"}},
    "color": {"field": "time", "type": "nominal", "sort": ["15 min", "1 h", "18 h"]}}},
  {"data": {"name": "labelB"}, "mark": {"type": "text", "align": "right", "baseline": "alphabetic", "dx": -6, "fontSize": 17, "fontWeight": "bold"},
   "encoding": {"x": {"datum": 800, "type": "quantitative"}, "y": {"datum": 10.2, "type": "quantitative"}, "text": {"field": "label"}}}
 ]}
]
}
